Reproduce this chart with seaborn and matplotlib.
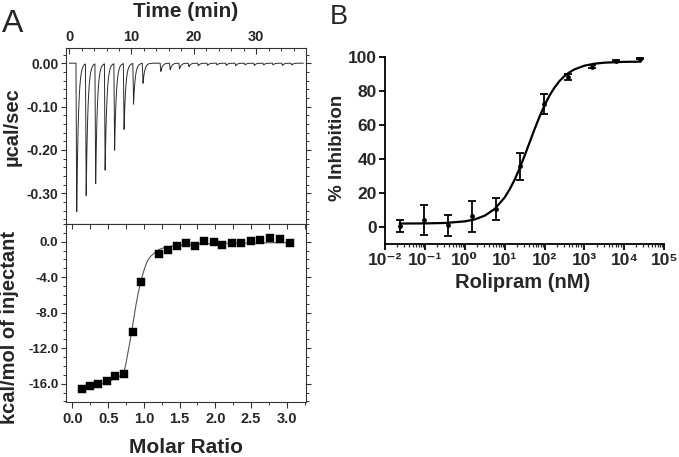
import numpy as np
import pandas as pd
import matplotlib
matplotlib.use("Agg")
import matplotlib.pyplot as plt
from matplotlib.ticker import MultipleLocator, FixedLocator, LogLocator, NullFormatter, FuncFormatter
import seaborn as sns

# ---------------- Panel A (top): raw ITC thermogram ----------------
inj_time_min = [1.1, 2.62, 4.14, 5.66, 7.18, 8.7, 10.22, 11.74, 14.6, 16.1, 17.6,
                19.1, 20.6, 22.1, 23.6, 25.1, 26.6, 28.1, 29.6, 31.1, 32.6, 34.1, 35.6]
peak_ucal_s = [-0.343, -0.304, -0.277, -0.246, -0.200, -0.152, -0.094, -0.046,
               -0.019, -0.015, -0.013, -0.008, -0.006, -0.005, -0.004, -0.005,
               -0.006, -0.004, -0.005, -0.004, -0.004, -0.005, -0.004]

# ---------------- Panel A (bottom): integrated heats ----------------
molar_ratio = [0.129, 0.245, 0.362, 0.48, 0.60, 0.718, 0.844, 0.965, 1.213, 1.339,
               1.466, 1.592, 1.718, 1.844, 1.975, 2.10, 2.233, 2.363, 2.494, 2.63,
               2.766, 2.90, 3.04]
heat_kcal = [-16.65, -16.3, -16.06, -15.7, -15.17, -14.95, -10.2, -4.57, -1.41, -0.89,
             -0.45, -0.15, -0.48, 0.11, -0.07, -0.37, -0.19, -0.15, 0.04, 0.19,
             0.41, 0.30, -0.15]
fit_ratio = [0.129, 0.25, 0.35, 0.45, 0.55, 0.62, 0.68, 0.71, 0.73, 0.75, 0.77, 0.80,
             0.83, 0.86, 0.89, 0.92, 0.95, 0.98, 1.01, 1.04, 1.07, 1.10, 1.15, 1.22,
             1.30, 1.40, 1.55, 1.75, 2.0, 2.4, 3.04]
fit_kcal = [-16.55, -16.35, -16.15, -15.9, -15.6, -15.35, -15.05, -14.85, -14.4, -13.7,
            -12.8, -11.5, -10.1, -8.6, -7.1, -5.8, -4.8, -3.8, -3.0, -2.35, -1.9, -1.6,
            -1.25, -0.85, -0.62, -0.48, -0.36, -0.27, -0.2, -0.14, -0.1]

# ---------------- Panel B: dose response ----------------
conc_nM = [0.0238, 0.0954, 0.381, 1.53, 6.10, 24.4, 97.7, 390.6, 1562.5, 6250, 25000]
inhib_pct = [0.8, 4.4, 1.3, 6.5, 11.0, 35.8, 72.4, 88.6, 94.5, 97.8, 99.2]
inhib_sd = [3.6, 8.9, 6.2, 9.2, 6.5, 8.0, 5.9, 1.8, 1.0, 0.5, 0.3]
curve_nM = [0.0234, 0.1, 0.316, 1.0, 1.78, 3.16, 5.62, 10.0, 13.3, 17.8, 23.7, 31.6,
            42.2, 56.2, 75.0, 100, 133, 178, 237, 316, 422, 562, 1000, 1778, 3162,
            10000, 25700]
curve_pct = [2.22, 2.29, 2.54, 3.48, 4.65, 6.84, 10.79, 17.57, 22.31, 28.06, 34.74,
             42.16, 49.98, 57.8, 65.18, 71.84, 77.55, 82.28, 86.05, 89.0, 91.23, 92.91,
             95.08, 96.23, 96.84, 97.32, 97.44]
b_xtick_values = [1e-2, 1e-1, 1e0, 1e1, 1e2, 1e3, 1e4, 1e5]
b_xtick_labels = ["10⁻²", "10⁻¹", "10⁰", "10¹", "10²", "10³", "10⁴", "10⁵"]

sns.set_theme(style="ticks")
plt.rcParams["font.family"] = ["Liberation Sans", "DejaVu Sans"]
plt.rcParams["font.weight"] = "bold"
plt.rcParams["axes.unicode_minus"] = False

W, H = 679, 457
fig = plt.figure(figsize=(W / 100, H / 100), dpi=100)


def axes_px(left, top, right, bottom):
    return fig.add_axes([left / W, 1 - bottom / H, (right - left) / W, (bottom - top) / H])


def bold_ticks(ax):
    for lab in ax.get_xticklabels() + ax.get_yticklabels():
        lab.set_fontweight("bold")


spine_col = "#333333"

# ---------- top ITC panel ----------
ax1 = axes_px(66, 48, 306, 224)
t = np.arange(0.0, 37.6, 0.01)
trace = np.zeros_like(t)
for ti, d in zip(inj_time_min, peak_ucal_s):
    dt = t - ti
    shape = np.where(dt < 0, 0.0, np.where(dt < 0.12, dt / 0.12, np.exp(-(dt - 0.12) / 0.27)))
    trace += d * shape
sns.lineplot(x=t, y=trace, ax=ax1, color="#2a2a2a", lw=0.7, estimator=None, sort=False)
ax1.set_xlim(-0.5, 38.0)
ax1.set_ylim(-0.371, 0.035)
ax1.xaxis.tick_top()
ax1.xaxis.set_label_position("top")
ax1.xaxis.set_major_locator(FixedLocator([0, 10, 20, 30]))
ax1.xaxis.set_minor_locator(MultipleLocator(2))
ax1.yaxis.set_major_locator(FixedLocator([0.0, -0.1, -0.2, -0.3]))
ax1.yaxis.set_minor_locator(MultipleLocator(0.02))
ax1.yaxis.set_major_formatter(FuncFormatter(lambda v, p: f"{v:.2f}".replace("-0.00", "0.00")))
ax1.tick_params(axis="x", which="both", direction="in", top=True, bottom=False,
                labeltop=True, labelbottom=False, labelsize=10.5, pad=3, color=spine_col)
ax1.tick_params(axis="x", which="major", length=4, width=0.8)
ax1.tick_params(axis="x", which="minor", length=2.5, width=0.7)
ax1.tick_params(axis="y", which="both", direction="out", left=True, right=True,
                labelsize=10, pad=2, color=spine_col)
ax1.tick_params(axis="y", which="major", length=3.5, width=0.8)
ax1.tick_params(axis="y", which="minor", length=2, width=0.7)
for s in ax1.spines.values():
    s.set_color(spine_col)
    s.set_linewidth(0.8)
ax1.set_xlabel("Time (min)", fontsize=15, fontweight="bold")
ax1.xaxis.set_label_coords(0.5, 1.153)
ax1.xaxis.label.set_va("bottom")
ax1.set_ylabel("µcal/sec", fontsize=14.5, fontweight="bold")
ax1.yaxis.set_label_coords(-0.183, 0.551)
bold_ticks(ax1)

# ---------- bottom ITC panel ----------
ax2 = axes_px(66, 224, 306, 402)
sns.lineplot(x=fit_ratio, y=fit_kcal, ax=ax2, color="#555555", lw=0.8, estimator=None, sort=False)
sns.scatterplot(x=molar_ratio, y=heat_kcal, ax=ax2, marker="s", s=30, color="black",
                edgecolor="black", linewidth=0.3, zorder=3)
ax2.set_xlim(-0.09, 3.27)
ax2.set_ylim(-18.06, 2.0)
ax2.xaxis.set_major_locator(MultipleLocator(0.5))
ax2.xaxis.set_minor_locator(MultipleLocator(0.25))
ax2.xaxis.set_major_formatter(FuncFormatter(lambda v, p: f"{v:.1f}"))
ax2.yaxis.set_major_locator(FixedLocator([0, -4, -8, -12, -16]))
ax2.yaxis.set_minor_locator(MultipleLocator(1))
ax2.yaxis.set_major_formatter(FuncFormatter(lambda v, p: f"{v:.1f}".replace("-0.0", "0.0")))
ax2.tick_params(axis="x", which="both", direction="out", bottom=True, top=False,
                labelsize=10.5, pad=3, color=spine_col)
ax2.tick_params(axis="x", which="major", length=4, width=0.8)
ax2.tick_params(axis="x", which="minor", length=2.5, width=0.7)
ax2.tick_params(axis="y", which="both", direction="out", left=True, right=True,
                labelsize=9.5, pad=2, color=spine_col)
ax2.tick_params(axis="y", which="major", length=3.5, width=0.8)
ax2.tick_params(axis="y", which="minor", length=2, width=0.7)
sec = ax2.secondary_xaxis("top")
sec.xaxis.set_major_locator(MultipleLocator(0.25))
sec.tick_params(axis="x", direction="in", length=3.5, width=0.7, labeltop=False, color=spine_col)
sec.spines["top"].set_visible(False)
for s in ax2.spines.values():
    s.set_color(spine_col)
    s.set_linewidth(0.8)
ax2.set_xlabel("Molar Ratio", fontsize=15, fontweight="bold")
ax2.xaxis.set_label_coords(0.5, -0.202)
ax2.xaxis.label.set_va("top")
ax2.set_ylabel("kcal/mol of injectant", fontsize=14.5, fontweight="bold")
ax2.yaxis.set_label_coords(-0.196, 0.416)
bold_ticks(ax2)

# ---------- panel B ----------
ax3 = axes_px(385, 57.3, 664.3, 244.3)
ax3.set_xscale("log")
sns.lineplot(x=curve_nM, y=curve_pct, ax=ax3, color="black", lw=1.6, estimator=None, sort=False)
ax3.errorbar(conc_nM, inhib_pct, yerr=inhib_sd, fmt="none", ecolor="black",
             elinewidth=1.3, capsize=3, capthick=1.3, clip_on=False, zorder=3)
sns.scatterplot(x=conc_nM, y=inhib_pct, ax=ax3, color="black", s=12, edgecolor="black",
                linewidth=0, zorder=4, clip_on=False)
ax3.set_xlim(1e-2, 1e5)
ax3.set_ylim(-10, 100)
ax3.xaxis.set_major_locator(FixedLocator(b_xtick_values))
ax3.set_xticklabels(b_xtick_labels)
ax3.xaxis.set_minor_locator(LogLocator(base=10, subs=np.arange(2, 10), numticks=20))
ax3.xaxis.set_minor_formatter(NullFormatter())
ax3.yaxis.set_major_locator(FixedLocator([0, 20, 40, 60, 80, 100]))
ax3.tick_params(axis="both", which="major", direction="out", length=4, width=1.3,
                labelsize=12.5, color="black")
ax3.tick_params(axis="x", which="minor", direction="out", length=2.2, width=0.9)
ax3.tick_params(axis="x", which="major", pad=2)
ax3.tick_params(axis="y", which="major", pad=2)
ax3.spines["top"].set_visible(False)
ax3.spines["right"].set_visible(False)
for side in ("left", "bottom"):
    ax3.spines[side].set_color("black")
    ax3.spines[side].set_linewidth(1.3)
ax3.set_xlabel("Rolipram (nM)", fontsize=14.5, fontweight="bold")
ax3.xaxis.set_label_coords(0.494, -0.153)
ax3.xaxis.label.set_va("top")
ax3.set_ylabel("% Inhibition", fontsize=13.5, fontweight="bold")
ax3.yaxis.set_label_coords(-0.14, 0.515)
bold_ticks(ax3)

fig.text(2 / W, 1 - 23.5 / H, "A", fontsize=23, fontweight="normal", ha="left", va="center")
fig.text(330 / W, 1 - 17 / H, "B", fontsize=19.5, fontweight="normal", ha="left", va="center")

fig.savefig("out.png", dpi=100)
